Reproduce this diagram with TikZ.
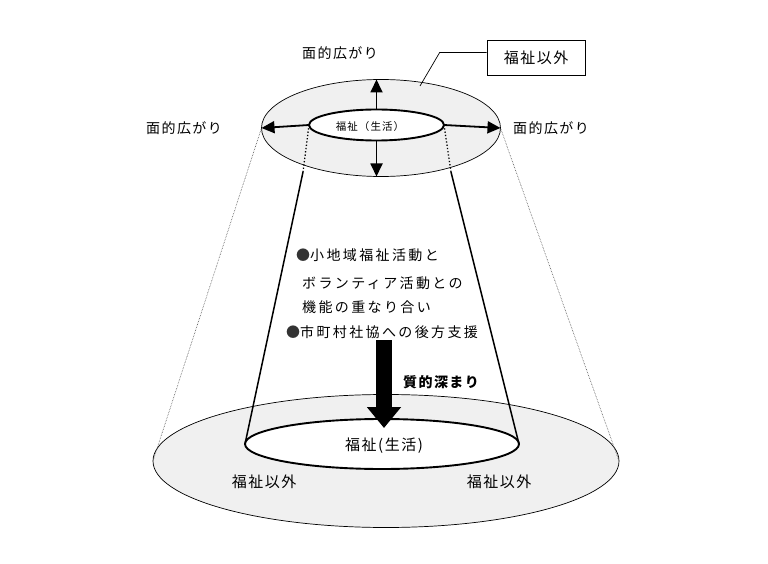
\documentclass[tikz,border=0pt]{standalone}
\usepackage{fontspec}
\setmainfont{Noto Sans CJK JP}
\newfontfamily\jpA[LetterSpace=10]{Noto Sans CJK JP}
\newfontfamily\jpB[LetterSpace=17]{Noto Sans CJK JP}
\usetikzlibrary{shapes.geometric,arrows.meta}
\begin{document}
\begin{tikzpicture}[x=1pt,y=-1pt,
  ell/.style={ellipse,inner sep=0pt,outer sep=0pt},
  stip/.style={fill=black!6},
  thinline/.style={line width=0.7pt},
  thickline/.style={line width=1.9pt},
  spread/.style={line width=1.8pt,-{Triangle[length=13pt,width=12pt]}},
  label/.style={font=\fontsize{14}{16}\selectfont\jpA,inner sep=0pt},
  body/.style={font=\fontsize{14}{16}\selectfont\jpB,inner sep=0pt,anchor=west},
  conegap/.style={line width=1.3pt,dotted},
  conewall/.style={line width=1.5pt},
  guide/.style={line width=0.6pt,densely dotted,black!70},
  bigarrow/.style={line width=16pt,-{Triangle[length=21pt,width=33pt]}}
]
\fill[white] (0,0) rectangle (768,564);
\useasboundingbox (0,0) rectangle (768,564);

% bottom big ellipse and base
\node[ell,draw,thinline,stip,minimum width=466pt,minimum height=133pt] (big) at (386,461) {};
\node[ell,draw,thickline,fill=white,minimum width=274pt,minimum height=50pt] (base) at (382,444) {};
\node[label,font=\fontsize{15}{17}\selectfont\jpA] (basetxt) at (384,446) {福祉(生活)};

% top rings
\node[ell,draw,thinline,stip,minimum width=239pt,minimum height=97pt] (outer) at (381,128) {};
\node[ell,draw,thickline,fill=white,minimum width=135pt,minimum height=31pt] (inner) at (376.5,125) {};
\node[inner sep=0pt,font=\fontsize{10.5}{12}\selectfont\jpA] (innertxt) at (370,127) {福祉（生活）};

% cone
\coordinate (tl) at (303,172);
\coordinate (tr) at (451,172);
\draw[conegap] (inner.west) -- (tl);
\draw[conegap] (inner.east) -- (tr);
\draw[conewall] (tl) -- (base.west);
\draw[conewall] (tr) -- (base.east);

% outer guide lines
\draw[guide] (outer.west) -- (big.west);
\draw[guide] (outer.east) -- (big.east);

% spreading arrows
\draw[spread] (inner.north) -- (inner.north |- outer.north);
\draw[spread] (inner.south) -- (inner.south |- outer.south);
\draw[spread] (inner.west) -- (outer.west);
\draw[spread] (inner.east) -- (outer.east);

% labels
\node[label] (ltop) at (340,53) {面的広がり};
\node[label] (lleft) at (184,128) {面的広がり};
\node[label] (lright) at (551,128) {面的広がり};

% box with leader
\node[draw,thinline,minimum width=98pt,minimum height=35pt,inner sep=0pt,
      font=\fontsize{15}{17}\selectfont\jpA] (box) at (536,57.5) {福祉以外};
\coordinate (lead) at (420,86);
\draw[thinline] ([yshift=5pt]box.west) -- ++(-47,0) -- (lead);

% bottom labels
\node[label,font=\fontsize{15}{17}\selectfont\jpA] (bl) at (264,482) {福祉以外};
\node[label,font=\fontsize{15}{17}\selectfont\jpA] (br) at (499,482) {福祉以外};

% body text
\node[body] (t1) at (296,255) {{\color{black!80}●}小地域福祉活動と};
\node[body] (t2) at (302,283) {ボランティア活動との};
\node[body] (t3) at (302,307) {機能の重なり合い};
\node[body] (t4) at (286,332) {{\color{black!80}●}市町村社協への後方支援};

% deepening arrow
\coordinate (shaft) at (384,340);
\coordinate (tip) at (384,428);
\draw[bigarrow] (shaft) -- (tip);
\node[label,font=\fontsize{14}{16}\selectfont\bfseries\jpA,anchor=west] (deep) at (403,382) {質的深まり};
\end{tikzpicture}
\end{document}
